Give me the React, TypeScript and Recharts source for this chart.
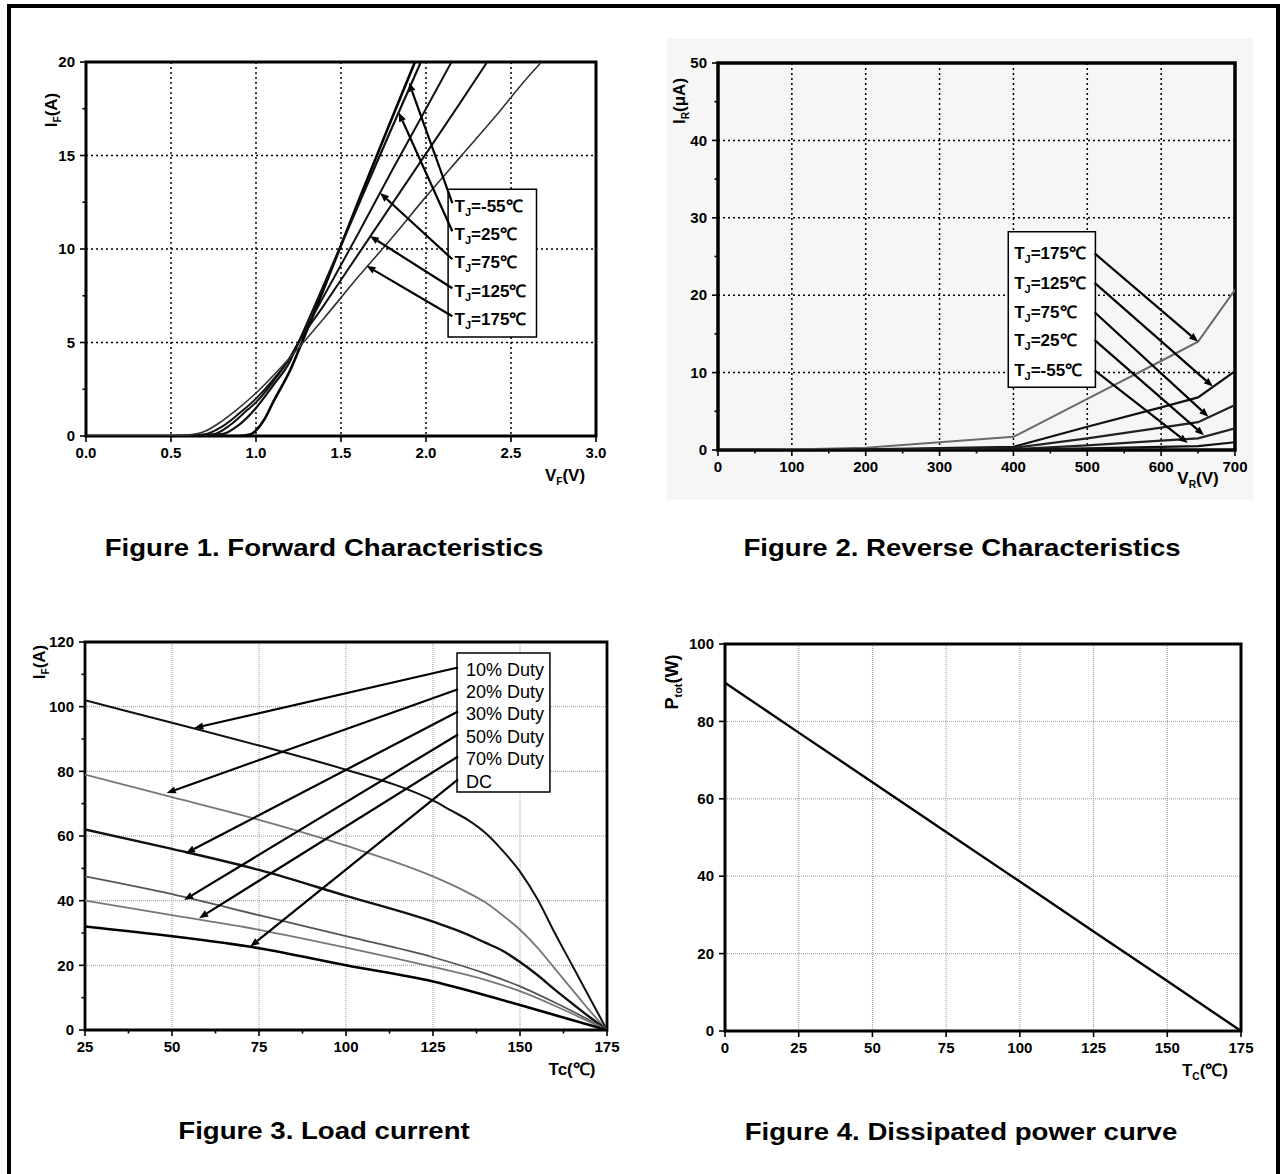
import React from 'react';
import {
    LineChart, Line, XAxis, YAxis, CartesianGrid, ReferenceArea, ReferenceLine, ReferenceDot,
} from 'recharts';

const FONT = "'Liberation Sans', Arial, Helvetica, sans-serif";
const TICK_FONT = "'Liberation Sans Narrow', 'Arial Narrow', 'Liberation Sans', Arial, sans-serif";
const TS = 6;
const TM = 5;

// Figure 1 - forward characteristics, V_F (V) / I_F (A)
const fwdTemps = ['-55', '25', '75', '125', '175'];
const vfM55 = [0, 0.5, 0.9, 0.97, 1.0, 1.05, 1.1, 1.2, 1.27, 1.4, 1.6, 1.8, 1.935];
const ifM55 = [0, 0, 0, 0.1, 0.3, 0.9, 1.8, 3.5, 5.0, 7.9, 12.5, 17.0, 20];
const vf25 = [0, 0.5, 0.8, 0.9, 1.0, 1.1, 1.2, 1.25, 1.4, 1.6, 1.8, 1.97];
const if25 = [0, 0, 0.1, 0.6, 1.5, 2.7, 4.0, 5.0, 8.1, 12.3, 16.5, 20];
const vf75 = [0, 0.5, 0.75, 0.85, 0.95, 1.0, 1.1, 1.2, 1.25, 1.4, 1.6, 1.8, 2.0, 2.15];
const if75 = [0, 0, 0.1, 0.6, 1.4, 1.8, 2.9, 4.2, 5.0, 7.5, 10.8, 14.2, 17.5, 20];
const vf125 = [0, 0.5, 0.7, 0.8, 0.9, 1.0, 1.1, 1.2, 1.25, 1.4, 1.6, 1.8, 2.0, 2.2, 2.36];
const if125 = [0, 0, 0.1, 0.5, 1.2, 2.0, 3.0, 4.2, 5.0, 7.0, 9.7, 12.4, 15.1, 17.8, 20];
const vf175 = [0, 0.5, 0.6, 0.7, 0.8, 0.9, 1.0, 1.2, 1.4, 1.6, 1.8, 2.0, 2.2, 2.4, 2.6, 2.68];
const if175 = [0, 0, 0.05, 0.25, 0.8, 1.5, 2.3, 4.2, 6.3, 8.5, 10.6, 12.8, 14.9, 17.0, 19.2, 20];
// where each legend arrow lands on its curve
const fwdArrowV = [1.90, 1.84, 1.73, 1.67, 1.65];
const fwdArrowI = [18.9, 17.3, 13.0, 10.7, 9.1];
const fwdLabelI = [12.3, 10.8, 9.3, 7.75, 6.25];

// Figure 2 - reverse characteristics, V_R (V) / I_R (uA)
const revTemps = ['175', '125', '75', '25', '-55'];
const vr = [0, 100, 200, 300, 400, 500, 600, 650, 700];
const ir175 = [0, 0.05, 0.3, 1.0, 1.7, 6.6, 11.5, 14.0, 20.7];
const ir125 = [0, 0, 0.1, 0.25, 0.4, 3.0, 5.5, 6.8, 10.2];
const ir75 = [0, 0, 0.05, 0.15, 0.25, 1.5, 2.9, 3.6, 5.8];
const ir25 = [0, 0, 0, 0.05, 0.1, 0.6, 1.2, 1.5, 2.8];
const irM55 = [0, 0, 0, 0, 0.05, 0.2, 0.4, 0.5, 1.0];
const revArrowV = [650, 670, 664, 658, 636];
const revArrowI = [14.0, 8.2, 4.3, 1.9, 0.9];
const revLabelI = [25.4, 21.6, 17.8, 14.2, 10.3];

// Figure 3 - load current, Tc (C) / I_F (A)
const duties = ['10% Duty', '20% Duty', '30% Duty', '50% Duty', '70% Duty', 'DC'];
const tc10 = [25, 50, 75, 100, 115, 125, 130, 135, 140, 145, 150, 155, 160, 165, 170, 175];
const load10 = [102, 95, 88, 80.5, 75.5, 71, 68, 65, 61, 55.5, 49, 40.5, 30, 20, 10, 0];
const tc20 = [25, 50, 75, 100, 125, 135, 140, 145, 150, 155, 160, 165, 170, 175];
const load20 = [79, 72, 65, 57, 47.5, 42.5, 39.5, 35.5, 31, 25.5, 19, 12.5, 6, 0];
const tc30 = [25, 50, 75, 100, 125, 135, 140, 145, 150, 155, 160, 165, 170, 175];
const load30 = [62, 56, 49.5, 41.5, 33.5, 29.5, 27, 24.5, 21, 17, 12.5, 8.2, 4, 0];
const tc50 = [25, 50, 75, 100, 125, 140, 150, 160, 170, 175];
const load50 = [47.5, 42, 35.5, 29, 22.5, 17.5, 13.5, 8.5, 3, 0];
const tc70 = [25, 50, 75, 100, 125, 140, 150, 160, 170, 175];
const load70 = [40, 35.5, 31, 25.5, 19.5, 15.5, 12, 7.5, 2.5, 0];
const tcDc = [25, 50, 75, 100, 125, 150, 175];
const loadDc = [32, 29, 25.3, 20, 15, 7.7, 0];
const loadArrowT = [56.4, 48.5, 54, 53.5, 57.8, 72.5];
const loadArrowI = [93.4, 73.3, 54.7, 40.2, 34.6, 25.8];
const loadLabelI = [111.3, 104.6, 97.7, 90.6, 83.8, 76.7];

// Figure 4 - dissipated power, T_C (C) / P_tot (W)
const tcPow = [0, 25, 50, 75, 100, 125, 150, 175];
const ptot = [90, 77.1, 64.3, 51.4, 38.6, 25.7, 12.9, 0];

const zip = (xs: number[], ys: number[], xk: string, yk: string) =>
    xs.map((x, i) => ({ [xk]: x, [yk]: ys[i] }));

const isMajor = (v: number, step: number) => Math.abs(v / step - Math.round(v / step)) < 1e-6;
const range = (a: number, b: number, s: number) => {
    const out: number[] = [];
    for (let v = a; v <= b + 1e-9; v += s) out.push(Math.round(v * 1000) / 1000);
    return out;
};

const xTick = (step: number, fmt: (v: number) => string) => (p: any) => {
    const v = p.payload.value;
    const major = isMajor(v, step);
    const axisY = p.y - TS - TM;
    return (
        <g>
            <line x1={p.x} x2={p.x} y1={axisY} y2={axisY + (major ? TS : 3.5)} stroke='#000' strokeWidth={1.6} />
            {major && (
                <text x={p.x} y={p.y} dy='0.71em' textAnchor='middle' fontFamily={TICK_FONT}
                    fontWeight='bold' fontSize={15} fill='#000'>{fmt(v)}</text>
            )}
        </g>
    );
};

const yTick = (step: number) => (p: any) => {
    const v = p.payload.value;
    const major = isMajor(v, step);
    const axisX = p.x + TS + TM;
    return (
        <g>
            <line x1={axisX} x2={axisX - (major ? TS : 3.5)} y1={p.y} y2={p.y} stroke='#000' strokeWidth={1.6} />
            {major && (
                <text x={p.x} y={p.y} dy='0.35em' textAnchor='end' fontFamily={TICK_FONT}
                    fontWeight='bold' fontSize={15} fill='#000'>{v}</text>
            )}
        </g>
    );
};

const arrowShape = (p: any) => {
    const { x1, y1, x2, y2 } = p;
    const ang = Math.atan2(y2 - y1, x2 - x1);
    const L = 9;
    const W = 3.6;
    const bx = x2 - L * Math.cos(ang);
    const by = y2 - L * Math.sin(ang);
    const pts = `${x2},${y2} ${bx + W * Math.sin(ang)},${by - W * Math.cos(ang)} ${bx - W * Math.sin(ang)},${by + W * Math.cos(ang)}`;
    return (
        <g>
            <line x1={x1} y1={y1} x2={bx} y2={by} stroke='#000' strokeWidth={2.2} />
            <polygon points={pts} fill='#000' />
        </g>
    );
};

const tjLabel = (temp: string) => (p: any) => (
    <text x={p.cx} y={p.cy} dy='0.35em' fontFamily={FONT} fontWeight='bold' fontSize={17} fill='#000'>
        T<tspan fontSize={11} dy={4}>J</tspan><tspan dy={-4}>={temp}℃</tspan>
    </text>
);

const dutyLabel = (text: string) => (p: any) => (
    <text x={p.cx} y={p.cy} dy='0.35em' fontFamily={FONT} fontSize={18} fill='#000'>{text}</text>
);

const Sub = ({ children }: { children: React.ReactNode }) => (
    <span style={{ fontSize: '0.6em', position: 'relative', top: '0.35em' }}>{children}</span>
);

const AxisTitle = ({ cx, cy, rotate, size = 17, children }: any) => (
    <div style={{
        position: 'absolute', left: cx, top: cy, whiteSpace: 'nowrap', fontFamily: FONT,
        fontWeight: 'bold', fontSize: size, lineHeight: '20px',
        transform: `translate(-50%, -50%)${rotate ? ' rotate(-90deg)' : ''}`,
    }}>{children}</div>
);

const Caption = ({ cx, cy, text }: any) => (
    <div style={{
        position: 'absolute', left: cx, top: cy, whiteSpace: 'nowrap', fontFamily: FONT,
        fontWeight: 'bold', fontSize: 24, lineHeight: '28px', transform: 'translate(-50%, -50%) scaleX(1.15)',
    }}>{text}</div>
);

function ForwardChart() {
    const curves = [
        zip(vfM55, ifM55, 'v', 'i'), zip(vf25, if25, 'v', 'i'), zip(vf75, if75, 'v', 'i'),
        zip(vf125, if125, 'v', 'i'), zip(vf175, if175, 'v', 'i'),
    ];
    const widths = [2.6, 2.2, 2, 2, 1.6];
    const strokes = ['#000', '#111', '#111', '#111', '#333'];
    return (
        <LineChart width={640} height={500} margin={{ top: 62, right: 44, bottom: 34, left: 0 }}>
            <CartesianGrid stroke='#000' strokeWidth={1.5} strokeDasharray='2 3'
                verticalValues={[0.5, 1, 1.5, 2, 2.5]} horizontalValues={[5, 10, 15]} />
            <XAxis type='number' dataKey='v' domain={[0, 3]} ticks={range(0, 3, 0.5)} interval={0}
                allowDataOverflow axisLine={false} tickLine={false} tickSize={TS} tickMargin={TM} height={30}
                tick={xTick(0.5, (v) => v.toFixed(1))} />
            <YAxis type='number' dataKey='i' domain={[0, 20]} ticks={range(0, 20, 2.5)} interval={0}
                allowDataOverflow axisLine={false} tickLine={false} tickSize={TS} tickMargin={TM} width={86}
                tick={yTick(5)} />
            {curves.map((d, k) => (
                <Line key={fwdTemps[k]} data={d} dataKey='i' type='monotone' stroke={strokes[k]}
                    strokeWidth={widths[k]} dot={false} isAnimationActive={false} />
            ))}
            <ReferenceArea x1={0} x2={3} y1={0} y2={20} fill='none' stroke='#000' strokeWidth={3} />
            <ReferenceArea x1={2.13} x2={2.65} y1={5.3} y2={13.2} fill='#fff' fillOpacity={1} stroke='#000' strokeWidth={1.5} />
            {fwdTemps.map((t, k) => (
                <ReferenceLine key={'a' + t} segment={[{ x: 2.155, y: fwdLabelI[k] + 0.15 }, { x: fwdArrowV[k], y: fwdArrowI[k] }]}
                    shape={arrowShape} />
            ))}
            {fwdTemps.map((t, k) => (
                <ReferenceDot key={'l' + t} x={2.168} y={fwdLabelI[k]} r={0} shape={tjLabel(t)} />
            ))}
        </LineChart>
    );
}

function ReverseChart() {
    const series = [ir175, ir125, ir75, ir25, irM55];
    const rows = vr.map((v, i) => ({
        v, t175: ir175[i], t125: ir125[i], t75: ir75[i], t25: ir25[i], tm55: irM55[i],
    }));
    const keys = ['t175', 't125', 't75', 't25', 'tm55'];
    const strokes = ['#6a6a6a', '#111', '#222', '#222', '#111'];
    return (
        <LineChart width={642} height={500} data={rows} margin={{ top: 63, right: 47, bottom: 20, left: 0 }}>
            <CartesianGrid stroke='#000' strokeWidth={1.5} strokeDasharray='2 3'
                verticalValues={[100, 200, 300, 400, 500, 600]} horizontalValues={[10, 20, 30, 40]} />
            <XAxis type='number' dataKey='v' domain={[0, 700]} ticks={range(0, 700, 50)} interval={0}
                allowDataOverflow axisLine={false} tickLine={false} tickSize={TS} tickMargin={TM} height={30}
                tick={xTick(100, (v) => String(v))} />
            <YAxis type='number' domain={[0, 50]} ticks={range(0, 50, 5)} interval={0}
                allowDataOverflow axisLine={false} tickLine={false} tickSize={TS} tickMargin={TM} width={78}
                tick={yTick(10)} />
            {series.map((_, k) => (
                <Line key={keys[k]} dataKey={keys[k]} type='linear' stroke={strokes[k]}
                    strokeWidth={k === 0 ? 2 : 2.2} dot={false} isAnimationActive={false} />
            ))}
            <ReferenceArea x1={0} x2={700} y1={0} y2={50} fill='none' stroke='#000' strokeWidth={3.5} />
            <ReferenceArea x1={393} x2={511} y1={8.1} y2={28.2} fill='#fff' fillOpacity={1} stroke='#000' strokeWidth={1.5} />
            {revTemps.map((t, k) => (
                <ReferenceLine key={'a' + t} segment={[{ x: 510, y: revLabelI[k] }, { x: revArrowV[k], y: revArrowI[k] }]}
                    shape={arrowShape} />
            ))}
            {revTemps.map((t, k) => (
                <ReferenceDot key={'l' + t} x={401} y={revLabelI[k]} r={0} shape={tjLabel(t)} />
            ))}
        </LineChart>
    );
}

function LoadChart() {
    const curves = [
        zip(tc10, load10, 't', 'i'), zip(tc20, load20, 't', 'i'), zip(tc30, load30, 't', 'i'),
        zip(tc50, load50, 't', 'i'), zip(tc70, load70, 't', 'i'), zip(tcDc, loadDc, 't', 'i'),
    ];
    const strokes = ['#111', '#777', '#111', '#555', '#777', '#000'];
    const widths = [2, 1.8, 2.4, 1.8, 1.8, 2.6];
    return (
        <LineChart width={640} height={520} margin={{ top: 62, right: 33, bottom: 40, left: 0 }}>
            <CartesianGrid stroke='#999' strokeWidth={1} strokeDasharray='1 1'
                verticalValues={[50, 75, 100, 125, 150]} horizontalValues={[20, 40, 60, 80, 100]} />
            <XAxis type='number' dataKey='t' domain={[25, 175]} ticks={range(25, 175, 12.5)} interval={0}
                allowDataOverflow axisLine={false} tickLine={false} tickSize={TS} tickMargin={TM} height={30}
                tick={xTick(25, (v) => String(v))} />
            <YAxis type='number' dataKey='i' domain={[0, 120]} ticks={range(0, 120, 10)} interval={0}
                allowDataOverflow axisLine={false} tickLine={false} tickSize={TS} tickMargin={TM} width={85}
                tick={yTick(20)} />
            {curves.map((d, k) => (
                <Line key={duties[k]} data={d} dataKey='i' type='monotone' stroke={strokes[k]}
                    strokeWidth={widths[k]} dot={false} isAnimationActive={false} />
            ))}
            <ReferenceArea x1={25} x2={175} y1={0} y2={120} fill='none' stroke='#000' strokeWidth={2.8} />
            <ReferenceArea x1={131.9} x2={158.6} y1={73.6} y2={116.6} fill='#fff' fillOpacity={1} stroke='#000' strokeWidth={1.5} />
            {duties.map((d, k) => (
                <ReferenceLine key={'a' + d} segment={[{ x: 132.2, y: loadLabelI[k] + 0.8 }, { x: loadArrowT[k], y: loadArrowI[k] }]}
                    shape={arrowShape} />
            ))}
            {duties.map((d, k) => (
                <ReferenceDot key={'l' + d} x={134.5} y={loadLabelI[k]} r={0} shape={dutyLabel(d)} />
            ))}
        </LineChart>
    );
}

function PowerChart() {
    const rows = zip(tcPow, ptot, 't', 'p');
    return (
        <LineChart width={642} height={520} data={rows} margin={{ top: 64, right: 41, bottom: 39, left: 0 }}>
            <CartesianGrid stroke='#999' strokeWidth={1} strokeDasharray='1 1'
                verticalValues={[25, 50, 75, 100, 125, 150]} horizontalValues={[20, 40, 60, 80]} />
            <XAxis type='number' dataKey='t' domain={[0, 175]} ticks={range(0, 175, 25)} interval={0}
                allowDataOverflow axisLine={false} tickLine={false} tickSize={TS} tickMargin={TM} height={30}
                tick={xTick(25, (v) => String(v))} />
            <YAxis type='number' domain={[0, 100]} ticks={range(0, 100, 20)} interval={0}
                allowDataOverflow axisLine={false} tickLine={false} tickSize={TS} tickMargin={TM} width={85}
                tick={yTick(20)} />
            <Line dataKey='p' type='linear' stroke='#000' strokeWidth={2.4} dot={false} isAnimationActive={false} />
            <ReferenceArea x1={0} x2={175} y1={0} y2={100} fill='none' stroke='#000' strokeWidth={3} />
        </LineChart>
    );
}

export default function App() {
    return (
        <div style={{ position: 'absolute', left: 0, top: 0, width: 1282, height: 1174, background: '#fff', overflow: 'hidden' }}>
            <div style={{
                position: 'absolute', left: 7, top: 4, width: 1273, height: 1172, boxSizing: 'border-box',
                borderLeft: '4px solid #000', borderTop: '4px solid #000', borderRight: '4px solid #000',
            }} />
            <div style={{ position: 'absolute', left: 667, top: 38, width: 586, height: 462, background: '#f6f6f6' }} />
            <div style={{ position: 'absolute', left: 0, top: 0 }}><ForwardChart /></div>
            <div style={{ position: 'absolute', left: 640, top: 0 }}><ReverseChart /></div>
            <div style={{ position: 'absolute', left: 0, top: 580 }}><LoadChart /></div>
            <div style={{ position: 'absolute', left: 640, top: 580 }}><PowerChart /></div>

            <AxisTitle cx={53} cy={110} rotate>I<Sub>F</Sub>(A)</AxisTitle>
            <AxisTitle cx={565} cy={477}>V<Sub>F</Sub>(V)</AxisTitle>
            <AxisTitle cx={681} cy={101} rotate>I<Sub>R</Sub>(μA)</AxisTitle>
            <AxisTitle cx={1198} cy={480}>V<Sub>R</Sub>(V)</AxisTitle>
            <AxisTitle cx={41} cy={662} rotate>I<Sub>F</Sub>(A)</AxisTitle>
            <AxisTitle cx={572} cy={1070}>Tc(℃)</AxisTitle>
            <AxisTitle cx={673} cy={682} rotate size={18}>P<Sub>tot</Sub>(W)</AxisTitle>
            <AxisTitle cx={1205} cy={1072}>T<Sub>C</Sub>(℃)</AxisTitle>

            <Caption cx={324} cy={548} text='Figure 1. Forward Characteristics' />
            <Caption cx={962} cy={548} text='Figure 2. Reverse Characteristics' />
            <Caption cx={324} cy={1131} text='Figure 3. Load current' />
            <Caption cx={961} cy={1132} text='Figure 4. Dissipated power curve' />
        </div>
    );
}
